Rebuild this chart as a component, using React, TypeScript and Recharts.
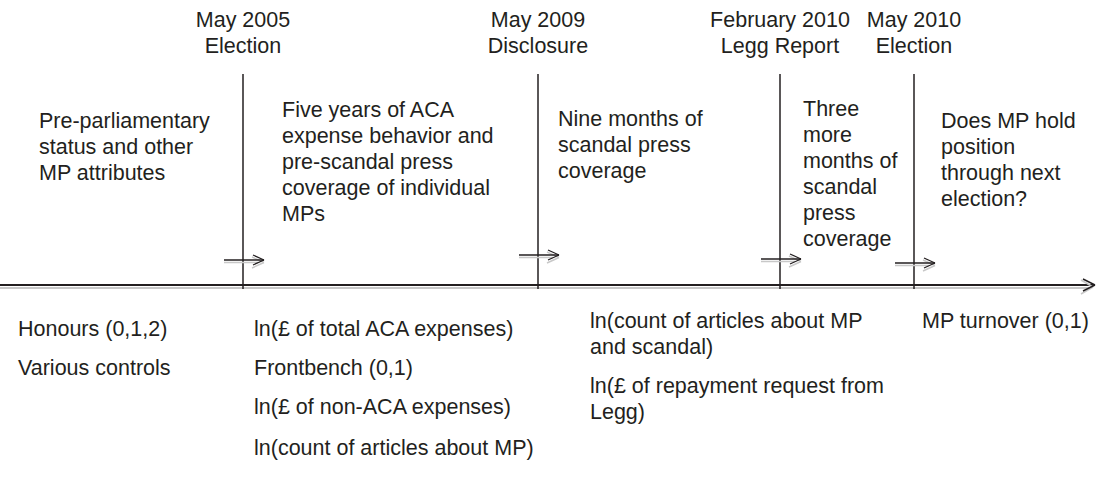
import { ComposedChart, ReferenceLine, Scatter, XAxis, YAxis } from "recharts";

const W = 1105;
const H = 493;

// events on the timeline (position along the drawn axis)
const eventPos = [243, 538, 780, 914];
const eventDates = ["May 2005", "May 2009", "February 2010", "May 2010"];
const eventNames = ["Election", "Disclosure", "Legg Report", "Election"];
const arrowLevel = [260, 255, 259, 263];

// what happens in each period, above the axis
const periodText = [
  ["Pre-parliamentary", "status and other", "MP attributes"],
  ["Five years of ACA", "expense behavior and", "pre-scandal press", "coverage of individual", "MPs"],
  ["Nine months of", "scandal press", "coverage"],
  ["Three", "more", "months of", "scandal", "press", "coverage"],
  ["Does MP hold", "position", "through next", "election?"],
];

// variables measured in each period, below the axis
const variableText = [
  ["Honours (0,1,2)"],
  ["Various controls"],
  ["ln(£ of total ACA expenses)"],
  ["Frontbench (0,1)"],
  ["ln(£ of non-ACA expenses)"],
  ["ln(count of articles about MP)"],
  ["ln(count of articles about MP", "and scandal)"],
  ["ln(£ of repayment request from", "Legg)"],
  ["MP turnover (0,1)"],
];

// layout of the text blocks
const periodX = [39, 282, 558, 803, 941];
const periodY = [128, 117, 126, 116, 128];
const variableX = [18, 18, 254, 254, 254, 254, 590, 590, 922];
const variableY = [336, 375, 336, 375, 414, 455, 328, 393, 328];

const AXIS_Y = 285;
const AXIS_END = 1095;
const INK = "#231f20";
const SHADOW = "#c8c8c8";
const FONT = "'Liberation Sans', Arial, sans-serif";
const LINE_H = 26;

const labelRows = eventPos.map((x, i) => ({ x, y: 27, lines: [eventDates[i], eventNames[i]], anchor: "middle" }));
const periodRows = periodText.map((lines, i) => ({ x: periodX[i], y: periodY[i], lines, anchor: "start" }));
const variableRows = variableText.map((lines, i) => ({ x: variableX[i], y: variableY[i], lines, anchor: "start" }));

const TextBlock = (props: any) => {
  const { cx, cy, payload } = props;
  return (
    <text x={cx} y={cy} fill={INK} fontSize={21.5} fontFamily={FONT} textAnchor={payload.anchor}>
      {payload.lines.map((l: string, i: number) => (
        <tspan key={i} x={cx} dy={i === 0 ? 0 : LINE_H}>
          {l}
        </tspan>
      ))}
    </text>
  );
};

const seg = (x1: number, y1: number, x2: number, y2: number, stroke: string, w: number, key: string) => (
  <ReferenceLine
    key={key}
    segment={[
      { x: x1, y: y1 },
      { x: x2, y: y2 },
    ]}
    stroke={stroke}
    strokeWidth={w}
    ifOverflow="visible"
  />
);

export default function App() {
  return (
    <div style={{ position: "absolute", left: 0, top: 0, background: "#fff" }}>
      <ComposedChart width={W} height={H} margin={{ top: 0, right: 0, bottom: 0, left: 0 }}>
        <XAxis type="number" dataKey="x" domain={[0, W]} hide />
        <YAxis type="number" dataKey="y" domain={[0, H]} reversed hide />

        {/* main time axis with shadow and arrowhead */}
        {seg(0, AXIS_Y + 3, AXIS_END - 6, AXIS_Y + 3, SHADOW, 2, "ax-s")}
        {seg(0, AXIS_Y, AXIS_END, AXIS_Y, INK, 1.8, "ax")}
        {seg(AXIS_END - 14, AXIS_Y - 5, AXIS_END - 2, AXIS_Y + 2, SHADOW, 1.6, "axh1-s")}
        {seg(AXIS_END - 14, AXIS_Y + 9, AXIS_END - 2, AXIS_Y + 2, SHADOW, 1.6, "axh2-s")}
        {seg(AXIS_END - 12, AXIS_Y - 6, AXIS_END, AXIS_Y, INK, 1.5, "axh1")}
        {seg(AXIS_END - 12, AXIS_Y + 6, AXIS_END, AXIS_Y, INK, 1.5, "axh2")}

        {/* event markers */}
        {eventPos.map((x) => seg(x, 74, x, AXIS_Y + 4, INK, 1.5, `v-${x}`))}

        {/* small transition arrows */}
        {eventPos.map((x, i) => {
          const y = arrowLevel[i];
          return [
            seg(x - 19, y + 2.5, x + 15, y + 2.5, SHADOW, 1.6, `a-s-${x}`),
            seg(x + 9, y - 3, x + 21, y + 2.5, SHADOW, 1.4, `ah1-s-${x}`),
            seg(x + 9, y + 8, x + 21, y + 2.5, SHADOW, 1.4, `ah2-s-${x}`),
            seg(x - 19, y, x + 21, y, INK, 1.3, `a-${x}`),
            seg(x + 10, y - 5, x + 21, y, INK, 1.3, `ah1-${x}`),
            seg(x + 10, y + 5, x + 21, y, INK, 1.3, `ah2-${x}`),
          ];
        })}

        <Scatter data={labelRows} dataKey="y" shape={TextBlock} isAnimationActive={false} />
        <Scatter data={periodRows} dataKey="y" shape={TextBlock} isAnimationActive={false} />
        <Scatter data={variableRows} dataKey="y" shape={TextBlock} isAnimationActive={false} />
      </ComposedChart>
    </div>
  );
}
